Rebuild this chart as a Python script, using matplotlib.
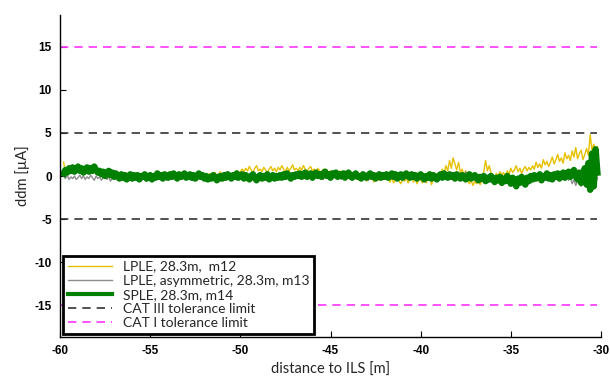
import numpy as np
import matplotlib
matplotlib.use("Agg")
import matplotlib.pyplot as plt

# ---- data (samples every 0.1 m starting at -59.8 m) ----
x_start = -59.8
x_step = 0.1

lple_m12 = [
    1.6, 0.5, 0.9, 0.6, 1.0, 0.5, 0.8, 1.1, 0.6, 0.9,
    0.5, 0.8, 1.0, 0.6, 0.9, 0.5, 1.0, 0.7, 0.4, 0.6,
    0.3, 0.6, 0.2, 0.5, 0.1, 0.4, 0.0, 0.3, 0.5, 0.1,
    0.3, 0.0, 0.2, -0.1, 0.4, 0.0, 0.2, -0.2, 0.3, 0.0,
    0.1, 0.3, -0.1, 0.2, 0.0, 0.4, -0.1, 0.1, 0.3, 0.0,
    0.2, 0.0, 0.4, 0.1, 0.3, -0.1, 0.2, 0.4, 0.0, 0.3,
    0.1, 0.4, 0.2, 0.0, 0.3, 0.1, 0.5, 0.2, 0.0, 0.3,
    0.4, 0.1, 0.2, 0.0, 0.3, 0.5, 0.1, 0.3, 0.0, 0.2,
    0.0, 0.3, -0.1, 0.2, 0.4, 0.0, 0.2, 0.5, 0.1, 0.3,
    0.2, 0.5, 0.3, 0.1, 0.4, 0.2, 0.6, 0.3, 0.5, 0.8,
    0.5, 0.9, 0.6, 1.1, 0.7, 0.4, 0.9, 1.2, 0.6, 0.8,
    0.5, 1.0, 0.7, 0.4, 0.8, 1.1, 0.6, 0.9, 0.5, 1.0,
    0.7, 1.2, 0.8, 0.5, 1.0, 0.6, 0.9, 1.3, 0.7, 0.9,
    0.6, 1.0, 0.7, 1.2, 0.8, 0.5, 0.9, 1.1, 0.6, 0.8,
    0.5, 0.9, 0.6, 0.3, 0.8, 0.5, 0.7, 0.3, 0.6, 0.4,
    0.1, 0.5, 0.2, 0.6, 0.0, 0.3, -0.1, 0.4, 0.1, -0.2,
    0.2, -0.3, 0.1, -0.1, -0.5, 0.0, -0.3, 0.2, -0.6, -0.1,
    -0.4, 0.1, -0.7, -0.2, 0.1, -0.5, -0.1, 0.2, -0.3, 0.0,
    -0.3, -0.7, -0.2, -0.8, -0.4, -0.1, -0.6, -0.9, -0.3, -0.6,
    -0.2, -0.8, -0.4, 0.0, -0.7, -0.3, -0.9, -0.2, -0.5, -0.8,
    -0.2, -0.8, -0.3, 0.0, -1.0, -0.4, 0.1, -0.6, -0.2, 0.3,
    0.8, 0.3, 1.2, 0.6, 1.8, 0.9, 2.1, 1.4, 0.7, 1.6,
    0.4, 0.8, 0.2, 0.6, -0.4, -0.9, -0.5, -1.1, -0.6, -0.9,
    -0.4, -1.0, -0.5, 0.5, 1.8, 0.6, 1.2, 0.4, 0.1, -0.1,
    0.3, 0.0, 0.5, 0.1, 0.4, -0.1, 0.6, 0.2, 0.9, 0.4,
    0.7, 1.2, 0.5, 0.9, 0.3, 0.8, 1.1, 0.6, 1.0, 0.7,
    1.2, 0.8, 1.6, 1.0, 1.4, 0.9, 1.9, 1.3, 1.7, 1.1,
    1.6, 2.2, 1.4, 1.9, 2.5, 1.7, 2.1, 1.5, 2.7, 2.0,
    2.4, 1.8, 2.9, 2.2, 3.3, 2.0, 2.6, 3.0, 1.9, 2.5,
    3.2, 2.4, 4.8, 3.0, 3.7, 2.6, 3.4,
]

lple_asym_m13 = [
    0.0, -0.3, 0.1, -0.4, -0.1, -0.3, 0.0, -0.4, -0.2, 0.1,
    -0.3, 0.0, -0.4, -0.1, -0.3, 0.1, -0.2, -0.5, 0.0, -0.3,
    -0.1, -0.5, -0.2, 0.0, -0.4, -0.1, -0.6, -0.2, -0.4, 0.0,
    -0.5, -0.2, -0.4, 0.0, -0.6, -0.3, -0.1, -0.5, -0.2, -0.4,
    -0.1, -0.5, -0.3, 0.0, -0.4, -0.2, -0.6, -0.1, -0.3, -0.5,
    -0.2, 0.0, -0.4, -0.1, -0.3, 0.1, -0.2, -0.5, -0.1, -0.3,
    0.0, -0.3, -0.1, -0.4, 0.1, -0.2, -0.4, 0.0, -0.3, -0.1,
    -0.4, -0.1, -0.3, 0.0, -0.5, -0.2, 0.1, -0.3, -0.1, -0.4,
    -0.2, -0.5, -0.1, -0.3, 0.0, -0.4, -0.2, -0.6, -0.1, -0.3,
    0.0, -0.4, -0.2, 0.1, -0.3, -0.1, -0.5, 0.0, -0.2, -0.4,
    -0.1, -0.3, 0.0, -0.5, -0.2, -0.4, 0.1, -0.3, -0.1, -0.5,
    -0.2, 0.0, -0.4, -0.1, -0.3, 0.1, -0.2, -0.4, 0.0, -0.3,
    -0.1, 0.2, -0.3, 0.0, -0.2, 0.1, -0.4, 0.0, -0.2, 0.2,
    0.0, -0.3, 0.1, -0.1, 0.3, -0.2, 0.0, 0.2, -0.3, 0.1,
    -0.1, 0.2, -0.2, 0.0, -0.4, 0.1, -0.1, -0.3, 0.2, -0.1,
    0.0, -0.3, 0.1, -0.2, -0.4, 0.0, 0.6, 0.1, -0.2, 0.0,
    -0.3, 0.0, -0.2, 0.1, -0.4, -0.1, -0.3, 0.0, -0.2, -0.5,
    -0.1, -0.3, 0.0, -0.4, -0.2, 0.1, -0.3, -0.1, -0.4, 0.0,
    -0.2, 0.1, -0.3, 0.0, -0.1, 0.2, -0.2, -0.4, 0.0, -0.2,
    0.1, -0.3, -0.1, 0.0, -0.4, -0.2, 0.1, -0.3, -0.1, -0.5,
    -0.2, 0.0, -0.4, -0.1, -0.3, 0.1, -0.2, -0.5, -0.1, -0.3,
    0.0, -0.2, 0.2, -0.1, -0.3, 0.1, -0.2, 0.0, -0.4, -0.1,
    0.2, -0.2, 0.0, 0.5, -0.1, -0.3, 0.0, -0.2, -0.5, -0.1,
    -0.4, -0.1, -0.6, -0.3, -0.1, -0.5, -0.2, -0.7, -0.3, -0.1,
    -0.5, -0.2, -0.8, -0.4, -0.6, -0.1, -0.5, -0.9, -0.3, -0.6,
    -0.3, -0.8, -0.5, -1.0, -0.4, -0.7, -0.2, -0.6, -0.3, -0.1,
    -0.4, 0.0, -0.3, 0.2, -0.2, 0.4, -0.1, -0.3, 0.1, -0.2,
    0.0, -0.3, 0.2, -0.2, 0.1, -0.4, 0.0, 0.3, -0.3, -0.1,
    -0.5, -0.2, -0.9, -0.4, -1.1, -0.6, -0.3, -1.2, -0.5, -0.8,
    -1.3, -0.4, 0.8, -0.6, 1.2, -0.9, -0.2,
]

sple_m14 = [
    0.3, 0.7, 0.4, 0.9, 0.6, 1.0, 0.5, 0.8, 1.1, 0.6,
    0.9, 0.4, 0.8, 1.0, 0.5, 0.9, 0.6, 1.1, 0.7, 0.4,
    0.6, 0.2, 0.5, 0.0, 0.3, 0.6, 0.1, 0.4, -0.1, 0.3,
    0.0, -0.3, 0.2, -0.2, 0.1, -0.4, 0.0, 0.2, -0.3, 0.1,
    -0.2, 0.1, -0.4, 0.0, -0.1, 0.2, -0.3, -0.1, 0.1, -0.4,
    0.0, -0.2, 0.3, -0.1, 0.1, -0.3, 0.2, 0.0, -0.2, 0.2,
    -0.1, 0.3, 0.0, -0.3, 0.2, -0.1, 0.1, 0.3, -0.2, 0.0,
    0.2, -0.2, 0.1, -0.3, 0.0, 0.3, -0.1, 0.1, -0.3, 0.0,
    -0.4, -0.1, -0.3, 0.1, -0.2, -0.5, -0.1, 0.0, -0.3, 0.1,
    -0.2, 0.2, 0.0, -0.3, 0.1, -0.1, 0.3, -0.2, 0.0, 0.2,
    -0.3, 0.1, -0.1, -0.4, 0.0, 0.2, -0.2, -0.5, -0.1, 0.1,
    -0.3, 0.0, -0.2, 0.2, -0.4, -0.1, 0.1, -0.3, 0.0, -0.2,
    0.1, -0.2, 0.2, -0.1, 0.3, 0.0, -0.3, 0.1, -0.1, 0.2,
    0.0, 0.3, -0.1, 0.2, 0.4, -0.1, 0.1, 0.3, -0.2, 0.2,
    0.4, 0.0, 0.2, -0.1, 0.3, 0.5, 0.0, 0.2, -0.2, 0.3,
    0.1, 0.4, -0.1, 0.2, 0.0, 0.3, -0.2, 0.1, 0.4, 0.0,
    -0.2, 0.1, 0.3, -0.1, 0.0, -0.3, 0.2, 0.0, -0.2, 0.1,
    0.3, -0.1, 0.1, -0.3, 0.0, 0.2, -0.2, 0.1, -0.1, 0.2,
    -0.2, 0.0, 0.3, -0.1, 0.2, -0.3, 0.0, 0.2, -0.2, 0.1,
    0.3, 0.0, -0.2, 0.2, -0.1, 0.1, -0.3, 0.0, 0.2, -0.1,
    -0.4, 0.0, -0.2, 0.2, -0.3, 0.1, -0.1, -0.4, 0.0, 0.2,
    -0.2, 0.3, 0.0, -0.2, 0.2, -0.1, 0.1, -0.3, 0.2, 0.0,
    -0.3, 0.1, -0.1, -0.4, 0.0, 0.2, -0.3, -0.1, 0.1, -0.2,
    -0.5, -0.1, -0.3, 0.0, -0.6, -0.2, -0.4, 0.0, -0.3, -0.7,
    -0.2, -0.5, -0.1, -0.8, -0.3, -0.6, 0.0, -0.4, -0.9, -0.2,
    -0.6, -1.2, -0.3, -0.8, -0.1, -0.5, -1.0, -0.2, -0.6, 0.0,
    -0.4, 0.1, -0.3, -0.1, 0.2, -0.5, 0.0, -0.2, 0.3, -0.3,
    0.1, -0.4, 0.2, -0.1, 0.3, -0.3, 0.0, 0.4, -0.2, 0.2,
    0.5, -0.1, 0.3, 0.7, 0.0, -0.4, 0.4, -0.8, 0.2, 0.9,
    -1.0, 1.5, -1.6, 2.6, -1.2, 3.1, 0.4,
]

cat3_limit = 5
cat1_limit = 15

labels = [
    "LPLE, 28.3m,  m12",
    "LPLE, asymmetric, 28.3m, m13",
    "SPLE, 28.3m, m14",
    "CAT III tolerance limit",
    "CAT I tolerance limit",
]
xticks = [-60, -55, -50, -45, -40, -35, -30]
yticks = [-15, -10, -5, 0, 5, 10, 15]


def xs(series):
    return x_start + x_step * np.arange(len(series))


# ---- plot ----
fig = plt.figure(figsize=(6.1, 3.78), dpi=100)
ax = fig.add_axes([60 / 610, 41 / 378, 541 / 610, 322 / 378])

ax.plot(xs(lple_m12), lple_m12, color="#e6c000", lw=1.0, label=labels[0])
ax.plot(xs(lple_asym_m13), lple_asym_m13, color="#8c8c8c", lw=1.0,
        label=labels[1])
ax.plot(xs(sple_m14), sple_m14, color="#008000", lw=4.6, label=labels[2])

x_end = xs(sple_m14)[-1]
dash = (0, (5, 3.6))
ax.hlines([cat3_limit, -cat3_limit], -60, x_end, colors="#333333",
          linestyles=[dash], lw=1.2, label=labels[3])
ax.hlines([cat1_limit, -cat1_limit], -60, x_end, colors="#ff33ff",
          linestyles=[dash], lw=1.2, label=labels[4])

ax.set_xlim(-60, -30)
ax.set_ylim(-18.7, 18.7)
ax.set_xticks(xticks)
ax.set_yticks(yticks)
ax.set_xticklabels([str(t) for t in xticks], fontfamily="Liberation Sans",
                   fontweight="bold", fontsize=8.5)
ax.set_yticklabels([str(t) for t in yticks], fontfamily="Liberation Sans",
                   fontweight="bold", fontsize=8.5)
ax.tick_params(direction="in", length=4, width=0.8, pad=6)
for s in ["top", "right"]:
    ax.spines[s].set_visible(False)
for s in ["left", "bottom"]:
    ax.spines[s].set_linewidth(1.0)

ax.set_xlabel("distance to ILS [m]", fontfamily="Lato", fontsize=10.5,
              color="#262626", labelpad=4)
ax.set_ylabel("ddm [µA]", fontfamily="Lato", fontsize=10.5,
              color="#262626", labelpad=3)

leg = ax.legend(loc="lower left", bbox_to_anchor=(0.005, 0.01),
                borderaxespad=0, fancybox=False, frameon=True, framealpha=1,
                prop={"family": "Lato", "size": 10},
                labelspacing=0.15, handlelength=3.2, handletextpad=0.8,
                borderpad=0.35)
leg.get_frame().set_edgecolor("black")
leg.get_frame().set_linewidth(2.0)
leg.get_lines()[2].set_linewidth(3.0)
for t in leg.get_texts():
    t.set_color("#262626")

fig.savefig("out.png", dpi=100)
